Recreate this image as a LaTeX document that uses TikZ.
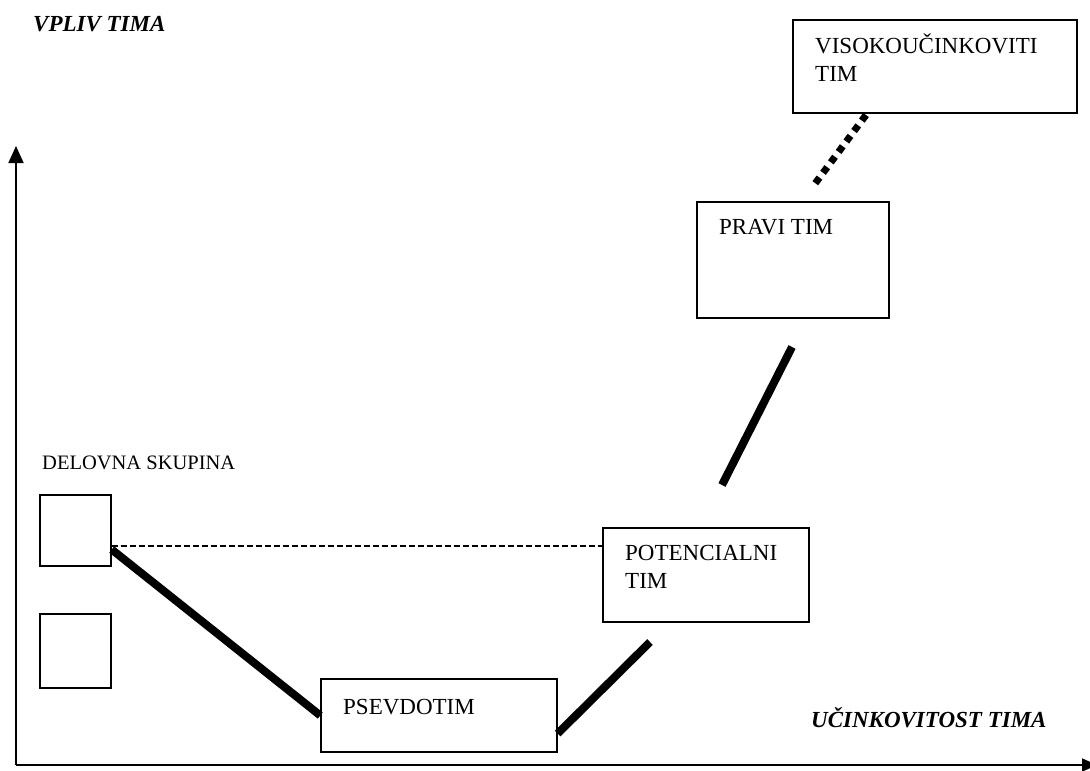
\documentclass[tikz,border=0pt]{standalone}
\usepackage{fontspec}
\setmainfont{Liberation Serif}
\usetikzlibrary{arrows.meta,calc}
\begin{document}
\begin{tikzpicture}[x=1pt,y=-1pt,
  boxnode/.style={draw,line width=1.4pt,inner sep=0pt},
  lbl/.style={anchor=base west,inner sep=0pt,font=\fontsize{23}{28}\selectfont},
  axislabel/.style={anchor=base west,inner sep=0pt,font=\fontsize{23}{27}\selectfont\bfseries\itshape},
  thickline/.style={line width=8pt},
  dotline/.style={line width=7pt,dash pattern=on 7pt off 6pt},
  dashline/.style={line width=1.3pt,dash pattern=on 6pt off 3pt},
  axisline/.style={line width=1.8pt}]
\useasboundingbox (0,0) rectangle (1090,771);
% axes
\coordinate (O) at (16,765);
\coordinate (ytip) at (16,146);
\coordinate (xtip) at (1097,765);
\draw[axisline,-{Triangle[length=17pt,width=15pt]}] (O) -- (ytip);
\draw[axisline,-{Triangle[length=15pt,width=13pt]}] (O) -- (xtip);
% axis labels
\node[axislabel] (vpliv) at (33,31) {VPLIV TIMA};
\node[axislabel] (ucink) at (811,727) {UČINKOVITOST TIMA};
% boxes
\node[boxnode,minimum width=71pt,minimum height=71pt] (ds1) at (75.5,530.5) {};
\node[boxnode,minimum width=71pt,minimum height=74pt] (ds2) at (75.5,651) {};
\node[boxnode,minimum width=236pt,minimum height=73pt] (pseudo) at (439,715.5) {};
\node[boxnode,minimum width=206pt,minimum height=94pt] (potent) at (706,575) {};
\node[boxnode,minimum width=192pt,minimum height=116pt] (pravi) at (793,260) {};
\node[boxnode,minimum width=284pt,minimum height=93pt] (visoko) at (935,66.5) {};
% labels
\node[anchor=base west,inner sep=0pt,font=\fontsize{20.5}{24}\selectfont] (dslbl) at (42,469) {DELOVNA SKUPINA};
\node[lbl] (pslbl) at (343,714) {PSEVDOTIM};
\node[lbl,align=left] (potlbl) at (625,588) {POTENCIALNI\\TIM};
\node[lbl] (prlbl) at (719,234) {PRAVI TIM};
\node[lbl,align=left] (vilbl) at (815,81) {VISOKOUČINKOVITI\\TIM};
% connectors
\coordinate (c1) at (650,642);
\coordinate (c2a) at (722,485);
\coordinate (c2b) at (792,347);
\coordinate (c3a) at (866,115);
\coordinate (c3b) at (814,185);
\draw[dashline] ([yshift=-15.5pt]ds1.east) -- ([yshift=29pt]potent.west);
\draw[thickline] ([yshift=-19pt]ds1.east) -- (pseudo.west);
\draw[thickline] ([yshift=-18pt]pseudo.east) -- (c1);
\draw[thickline] (c2a) -- (c2b);
\draw[dotline] (c3a) -- (c3b);
\end{tikzpicture}
\end{document}
